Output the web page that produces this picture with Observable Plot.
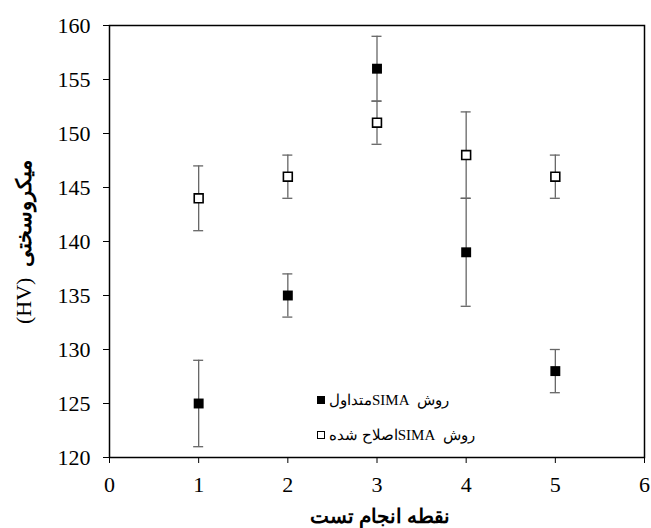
<!DOCTYPE html>
<html>
<head>
<meta charset="utf-8">
<script src="https://cdn.jsdelivr.net/npm/d3@7"></script>
<script src="https://cdn.jsdelivr.net/npm/@observablehq/plot@0.6"></script>
<style>
  html, body { margin: 0; padding: 0; background: #fff; }
  svg text { font-family: "Liberation Serif", "Times New Roman", serif; }
</style>
</head>
<body>
<div id="chart"></div>
<script>
const testPoints = [1, 2, 3, 4, 5];
const conventionalMean = [125, 135, 156, 139, 128];
const conventionalLow  = [121, 133, 153, 134, 126];
const conventionalHigh = [129, 137, 159, 144, 130];
const modifiedMean = [144, 146, 151, 148, 146];
const modifiedLow  = [141, 144, 149, 144, 144];
const modifiedHigh = [147, 148, 153, 152, 148];
const xTicks = [0, 1, 2, 3, 4, 5, 6];
const yTicks = [120, 125, 130, 135, 140, 145, 150, 155, 160];
const seriesNames = ["روش  SIMAمتداول", "روش  SIMAاصلاح شده"];
const xTitle = "نقطه انجام تست";
const yTitleA = "(HV)";
const yTitleB = "میکروسختی";

const conv = testPoints.map((x, i) => ({x, y: conventionalMean[i], lo: conventionalLow[i], hi: conventionalHigh[i]}));
const mod = testPoints.map((x, i) => ({x, y: modifiedMean[i], lo: modifiedLow[i], hi: modifiedHigh[i]}));
const all = conv.concat(mod);

const serif = "Liberation Serif";
const errColor = "#666";

const plot = Plot.plot({
  width: 651,
  height: 528,
  marginLeft: 109,
  marginRight: 7,
  marginTop: 25,
  marginBottom: 71,
  style: {fontFamily: serif, fontSize: "22px", color: "#000", background: "#fff"},
  x: {domain: [0, 6]},
  y: {domain: [120, 160]},
  marks: [
    Plot.axisX({ticks: xTicks, tickSize: 6, tickPadding: 13, label: null, tickFormat: d => String(d), fontSize: 22, fontFamily: serif}),
    Plot.axisY({ticks: yTicks, tickSize: 6, tickPadding: 13, label: null, tickFormat: d => String(d), fontSize: 22, fontFamily: serif}),
    Plot.ruleX(all, {x: "x", y1: "lo", y2: "hi", stroke: errColor, strokeWidth: 1.3}),
    Plot.ruleY(all, {y: "lo", x1: "x", x2: "x", insetLeft: -5, insetRight: -5, stroke: errColor, strokeWidth: 1.3}),
    Plot.ruleY(all, {y: "hi", x1: "x", x2: "x", insetLeft: -5, insetRight: -5, stroke: errColor, strokeWidth: 1.3}),
    Plot.dot(mod, {x: "x", y: "y", symbol: "square", r: 5, fill: "#fff", stroke: "#000", strokeWidth: 1.6}),
    Plot.dot(conv, {x: "x", y: "y", symbol: "square", r: 5.6, fill: "#000", stroke: "none"}),
    Plot.frame({stroke: "#000", strokeWidth: 1.5})
  ]
});

document.getElementById("chart").appendChild(plot);

const svg = d3.select(plot);
const sx = plot.scale("x"), sy = plot.scale("y");
const cx = (sx.range[0] + sx.range[1]) / 2;

// x title
svg.append("text")
  .attr("x", cx + 3).attr("y", 523)
  .attr("text-anchor", "middle")
  .attr("font-weight", "bold")
  .attr("font-size", 20)
  .attr("direction", "rtl")
  .text(xTitle);

// y title (rotated)
const yt = svg.append("text")
  .attr("transform", `translate(31,324) rotate(-90)`)
  .attr("text-anchor", "start")
  .attr("font-weight", "bold")
  .attr("font-size", 21);
yt.append("tspan").attr("font-weight", "normal").attr("font-size", 22).text(yTitleA);
yt.append("tspan").text("\u00a0\u00a0" + yTitleB);

// legend
const legendX = 321, legendY = [400, 435];
const g = svg.append("g");
g.append("rect").attr("x", legendX - 4).attr("y", legendY[0] - 4).attr("width", 8).attr("height", 8).attr("fill", "#000");
g.append("rect").attr("x", legendX - 3.5).attr("y", legendY[1] - 3.5).attr("width", 7).attr("height", 7).attr("fill", "#fff").attr("stroke", "#000").attr("stroke-width", 1);
seriesNames.forEach((name, i) => {
  g.append("text")
    .attr("x", legendX + 8).attr("y", legendY[i] + 5)
    .attr("text-anchor", "end")
    .attr("direction", "rtl")
    .style("unicode-bidi", "embed")
    .attr("font-size", 15)
    .text(name);
});
</script>
</body>
</html>
